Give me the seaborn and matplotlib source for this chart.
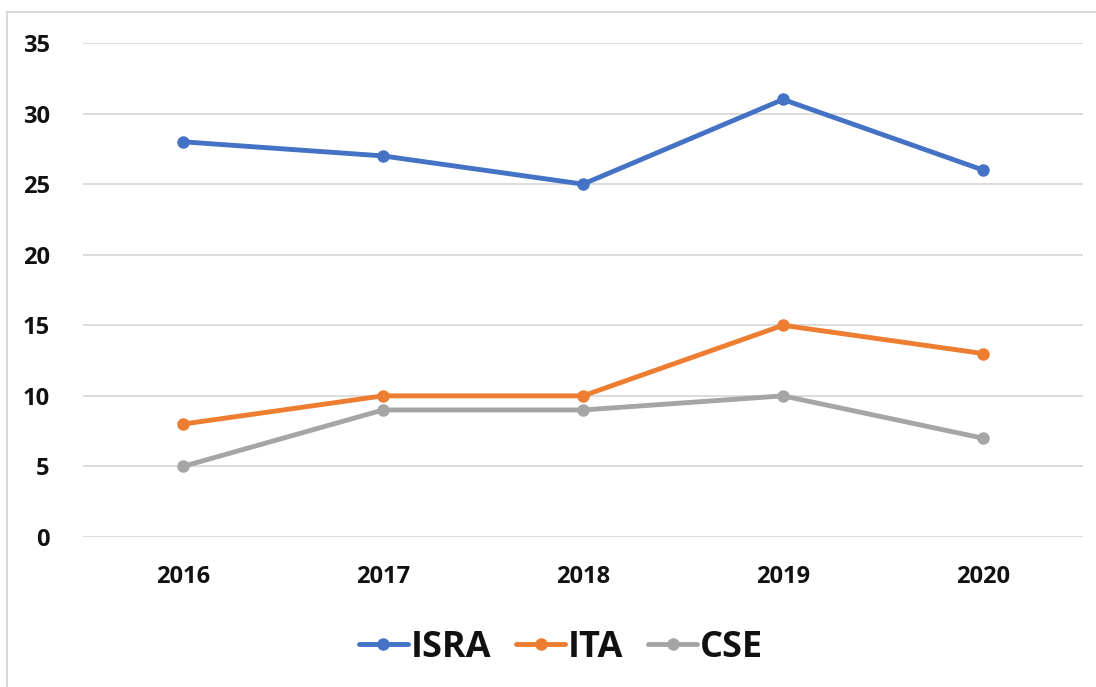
import matplotlib
matplotlib.use("Agg")
import matplotlib.pyplot as plt
import seaborn as sns
import pandas as pd
from matplotlib.patches import Rectangle

years = ["2016", "2017", "2018", "2019", "2020"]
isra = [28, 27, 25, 31, 26]
ita = [8, 10, 10, 15, 13]
cse = [5, 9, 9, 10, 7]
series_names = ["ISRA", "ITA", "CSE"]
colors = ["#4472C4", "#ED7D31", "#A5A5A5"]

df = pd.DataFrame({"year": years * 3,
                   "value": isra + ita + cse,
                   "series": [s for s in series_names for _ in years]})

sns.set_theme(style="white")
plt.rcParams['font.family'] = ['Open Sans', 'DejaVu Sans']

fig = plt.figure(figsize=(10.96, 6.87), dpi=100)
ax = fig.add_axes([83/1096, 150/687, 1000/1096, 494/687])

sns.lineplot(data=df, x="year", y="value", hue="series", hue_order=series_names,
             palette=colors, marker="o", markersize=9, markeredgewidth=0,
             linewidth=3.5, ax=ax, legend=True, sort=False)

ax.set_xlim(-0.5, 4.5)
ax.set_ylim(0, 35)
ax.set_yticks(range(0, 36, 5))
ax.yaxis.grid(True, color="#D9D9D9", linewidth=1.3)
ax.xaxis.grid(False)
for s in ax.spines.values():
    s.set_visible(False)
ax.set_xlabel("")
ax.set_ylabel("")
ax.tick_params(axis="both", length=0, labelsize=17)
ax.tick_params(axis="y", pad=24)
ax.tick_params(axis="x", pad=20)
for lbl in ax.get_xticklabels() + ax.get_yticklabels():
    lbl.set_fontweight("bold")
    lbl.set_color("#111111")

handles, labels = ax.get_legend_handles_labels()
leg = ax.legend(handles, labels, loc="upper center", bbox_to_anchor=(0.478, -0.122),
                ncol=3, frameon=False, prop={"size": 26, "weight": "bold"},
                handlelength=1.35, handletextpad=0.08, columnspacing=0.7)
for t in leg.get_texts():
    t.set_color("#111111")

fig.patches.append(Rectangle((7/1096, -0.01), 1.02, 1 - 12/687 + 0.01,
                             transform=fig.transFigure, fill=False,
                             edgecolor="#D9D9D9", linewidth=1.5))

fig.savefig("out.png", dpi=100)
